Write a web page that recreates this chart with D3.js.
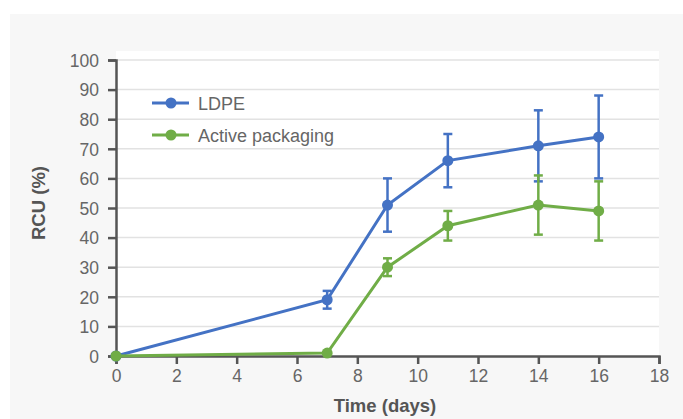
<!DOCTYPE html>
<html>
<head>
<meta charset="utf-8">
<script src="https://cdn.jsdelivr.net/npm/d3@7"></script>
<style>
  html, body { margin: 0; padding: 0; background: #ffffff; }
  svg { display: block; }
</style>
</head>
<body>
<svg id="chart" width="683" height="419"></svg>
<script>
// ---- data ----
const days = [0, 7, 9, 11, 14, 16];
const ldpe = [0, 19, 51, 66, 71, 74];
const ldpeErr = [0, 3, 9, 9, 12, 14];
const active = [0, 1, 30, 44, 51, 49];
const activeErr = [0, 0, 3, 5, 10, 10];
const seriesNames = ["LDPE", "Active packaging"];
const xTicks = [0, 2, 4, 6, 8, 10, 12, 14, 16, 18];
const yTicks = [0, 10, 20, 30, 40, 50, 60, 70, 80, 90, 100];
const xTitle = "Time (days)";
const yTitle = "RCU (%)";

(function () {
const colors = ["#4472C4", "#70AD47"];
const font = "'Liberation Sans', Arial, sans-serif";

const svg = d3.select("#chart");
// panel background
svg.append("rect").attr("x", 10).attr("y", 14).attr("width", 673).attr("height", 405).attr("fill", "#f7f7f7");

const mLeft = 116, mRight = 659, mTop = 60, mBottom = 356;
const x = d3.scaleLinear().domain([0, 18]).range([mLeft, mRight]);
const y = d3.scaleLinear().domain([0, 100]).range([mBottom, mTop]);

// plot area
svg.append("rect").attr("x", mLeft).attr("y", mTop - 9).attr("width", mRight - mLeft).attr("height", mBottom - mTop + 9).attr("fill", "#ffffff");

// gridlines
svg.append("g").selectAll("line").data(yTicks.filter(d => d > 0)).join("line")
  .attr("x1", mLeft).attr("x2", mRight)
  .attr("y1", d => y(d)).attr("y2", d => y(d))
  .attr("stroke", "#e2e2e2").attr("stroke-width", 1.5);

// axes
const xAxis = svg.append("g").attr("transform", `translate(0,${mBottom})`)
  .call(d3.axisBottom(x).tickValues(xTicks).tickSize(8).tickPadding(6).tickFormat(d3.format("d")));
const yAxis = svg.append("g").attr("transform", `translate(${mLeft},0)`)
  .call(d3.axisLeft(y).tickValues(yTicks).tickSize(8).tickPadding(9).tickFormat(d3.format("d")));
[xAxis, yAxis].forEach(g => {
  g.select(".domain").attr("stroke", "#555").attr("stroke-width", 2.5);
  g.selectAll(".tick line").attr("stroke", "#555").attr("stroke-width", 2.5);
  g.selectAll(".tick text").attr("fill", "#666").style("font-family", font).style("font-size", "17.5px");
});
yAxis.selectAll(".tick text").attr("dy", "0.36em");

// series
const series = [
  { name: seriesNames[0], vals: ldpe, err: ldpeErr, color: colors[0] },
  { name: seriesNames[1], vals: active, err: activeErr, color: colors[1] }
];
const line = d3.line().x(d => x(d[0])).y(d => y(d[1]));

series.forEach(s => {
  const pts = days.map((d, i) => [d, s.vals[i], s.err[i]]);
  const g = svg.append("g");
  // error bars
  const eb = g.selectAll("g.eb").data(pts.filter(p => p[2] > 0)).join("g");
  eb.append("line")
    .attr("x1", p => x(p[0])).attr("x2", p => x(p[0]))
    .attr("y1", p => y(p[1] - p[2])).attr("y2", p => y(p[1] + p[2]))
    .attr("stroke", s.color).attr("stroke-width", 2.5);
  [-1, 1].forEach(sign => {
    eb.append("line")
      .attr("x1", p => x(p[0]) - 4.5).attr("x2", p => x(p[0]) + 4.5)
      .attr("y1", p => y(p[1] + sign * p[2])).attr("y2", p => y(p[1] + sign * p[2]))
      .attr("stroke", s.color).attr("stroke-width", 2.5);
  });
  g.append("path").datum(pts).attr("d", line)
    .attr("fill", "none").attr("stroke", s.color).attr("stroke-width", 3);
  g.selectAll("circle").data(pts).join("circle")
    .attr("cx", p => x(p[0])).attr("cy", p => y(p[1])).attr("r", 5.5)
    .attr("fill", s.color);
});

// legend
series.forEach((s, i) => {
  const ly = 103 + i * 32;
  svg.append("line").attr("x1", 152).attr("x2", 189).attr("y1", ly).attr("y2", ly)
    .attr("stroke", s.color).attr("stroke-width", 3);
  svg.append("circle").attr("cx", 171).attr("cy", ly).attr("r", 5.5).attr("fill", s.color);
  svg.append("text").attr("x", 198).attr("y", ly + 6.5).text(s.name)
    .attr("fill", "#666").style("font-family", font).style("font-size", "18px");
});

// axis titles
svg.append("text").attr("x", 385).attr("y", 412).attr("text-anchor", "middle").text(xTitle)
  .attr("fill", "#555").style("font-family", font).style("font-size", "18.5px").style("font-weight", "bold");
svg.append("text").attr("transform", `translate(45,203) rotate(-90)`).attr("text-anchor", "middle").text(yTitle)
  .attr("fill", "#555").style("font-family", font).style("font-size", "18.5px").style("font-weight", "bold");
})();
</script>
</body>
</html>
